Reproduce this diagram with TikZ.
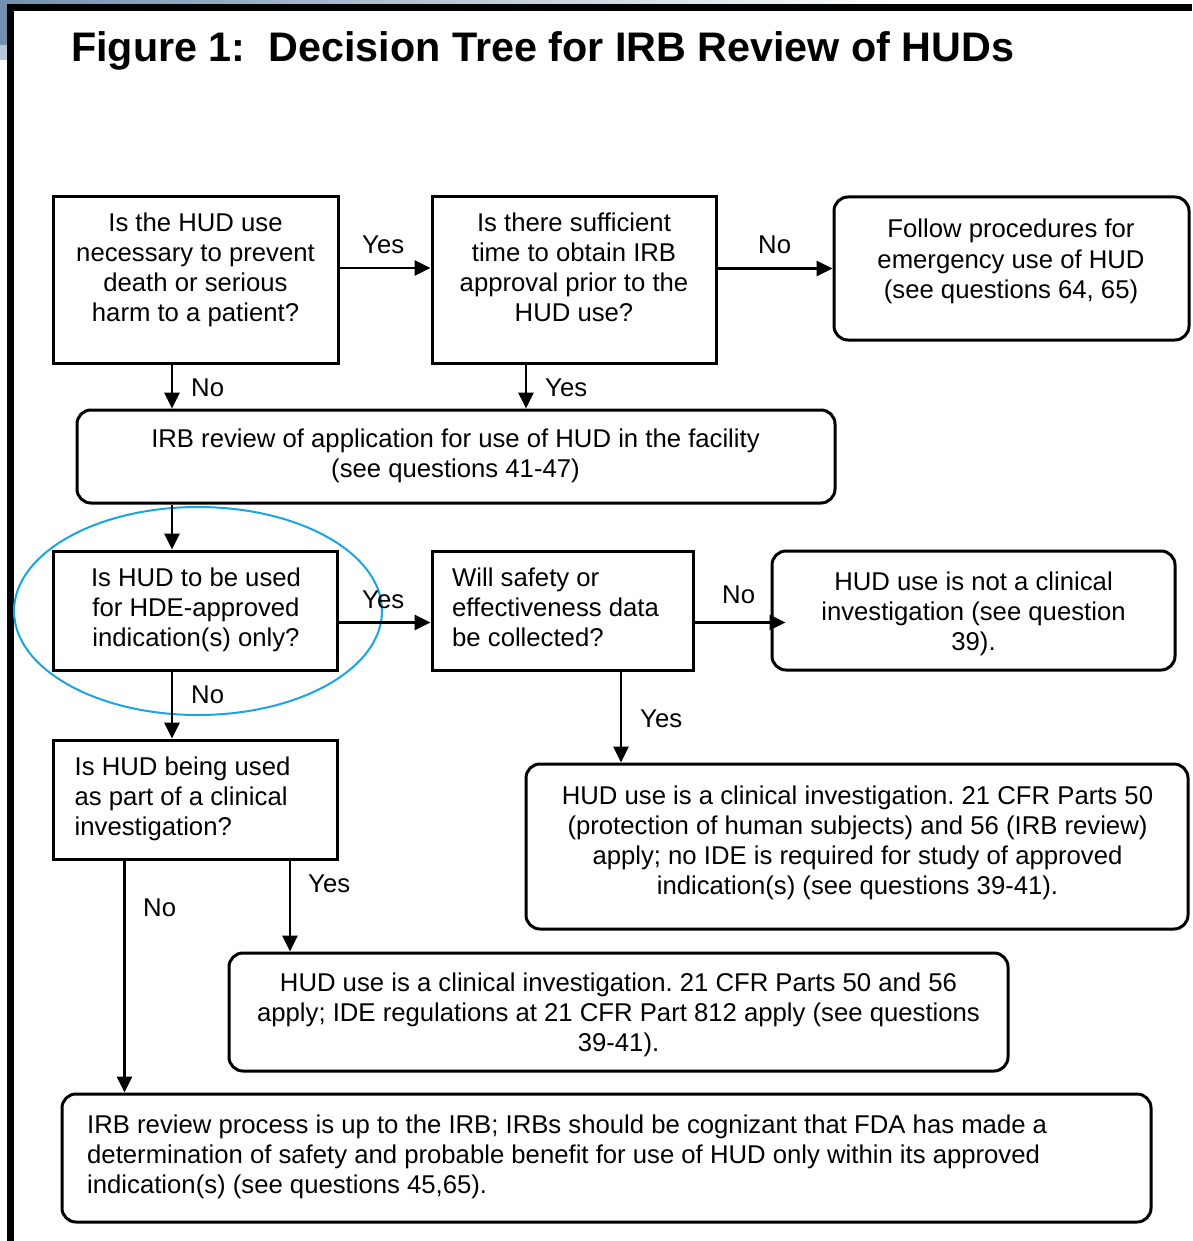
\documentclass[tikz,border=0pt]{standalone}
\usepackage{fontspec}
\setmainfont{Liberation Sans}
\usetikzlibrary{arrows.meta,shapes.geometric}
\definecolor{hlblue}{RGB}{25,165,225}
\definecolor{bgblue}{RGB}{115,145,175}
\newcommand{\mylines}[2]{\begin{tabular}[t]{@{}#1@{}}#2\end{tabular}}
\frenchspacing
\begin{document}
\begin{tikzpicture}[x=1pt,y=-1pt,
  box/.style={draw, line width=3pt, inner sep=0pt, outer sep=1.5pt},
  sqbox/.style={box},
  rbox/.style={box, rounded corners=14pt},
  txt/.style={inner sep=0pt, anchor=base, font=\fontsize{25.7}{30}\selectfont},
  ltxt/.style={txt, anchor=base west},
  lbl/.style={inner sep=0pt, anchor=base west, font=\fontsize{25.7}{30}\selectfont},
  arr/.style={line width=2.8pt, -{Triangle[length=16pt,width=15pt]}},
  hl/.style={ellipse, draw=hlblue, line width=2pt, inner sep=0pt},
]
\useasboundingbox (0,0) rectangle (1192,1241);
% background corner and frame
\shade[left color=bgblue, right color=white] (0,0) rectangle (900,4);
\fill[bgblue] (0,0) rectangle (7,45);
\fill[bgblue!50] (0,45) rectangle (7,60);
\draw[line width=7pt] (10.3,1241) -- (10.3,7.3) -- (1192,7.3);

% title
\node[anchor=base west, inner sep=0pt, font=\bfseries\fontsize{41.3}{48}\selectfont] (title) at (71,62) {Figure 1:\ \ Decision Tree for IRB Review of HUDs};

% boxes
\node[sqbox, minimum width=285pt, minimum height=166pt] (b1) at (195.5,280) {};
\node[sqbox, minimum width=284pt, minimum height=166pt] (b2) at (574,280) {};
\node[rbox, minimum width=355pt, minimum height=143pt] (b3) at (1011.5,268.5) {};
\node[rbox, minimum width=758pt, minimum height=93pt] (b4) at (456,456.5) {};
\node[sqbox, minimum width=284pt, minimum height=119pt] (b5) at (195,610.5) {};
\node[sqbox, minimum width=261pt, minimum height=119pt] (b6) at (562.5,610.5) {};
\node[rbox, minimum width=403pt, minimum height=119pt] (b7) at (973.5,610.5) {};
\node[sqbox, minimum width=284pt, minimum height=119pt] (b8) at (195,799.5) {};
\node[rbox, minimum width=662pt, minimum height=165pt] (b9) at (857,846.5) {};
\node[rbox, minimum width=779pt, minimum height=118pt] (b10) at (618.5,1012) {};
\node[rbox, minimum width=1089pt, minimum height=128pt] (b11) at (606.5,1158) {};

% highlight ellipse
\node[hl, minimum width=368pt, minimum height=208pt] (ring) at (198,611) {};

% texts
\node[txt] (t1) at (195.5,232) {\mylines{c}{Is the HUD use\\necessary to prevent\\death or serious\\harm to a patient?}};
\node[txt] (t2) at (574,232) {\mylines{c}{Is there sufficient\\time to obtain IRB\\approval prior to the\\HUD use?}};
\node[txt] (t3) at (1011,238) {\mylines{c}{Follow procedures for\\emergency use of HUD\\(see questions 64, 65)}};
\node[txt] (t4) at (455.5,447) {\mylines{c}{IRB review of application for use of HUD in the facility\\(see questions 41-47)}};
\node[txt] (t5) at (196,586) {\mylines{c}{Is HUD to be used\\for HDE-approved\\indication(s) only?}};
\node[ltxt] (t6) at (452,586) {\mylines{l}{Will safety or\\effectiveness data\\be collected?}};
\node[txt] (t7) at (973.5,590) {\mylines{c}{HUD use is not a clinical\\investigation (see question\\39).}};
\node[ltxt] (t8) at (74.5,775) {\mylines{l}{Is HUD being used\\as part of a clinical\\investigation?}};
\node[txt] (t9) at (857.5,804) {\mylines{c}{HUD use is a clinical investigation. 21 CFR Parts 50\\(protection of human subjects) and 56 (IRB review)\\apply; no IDE is required for study of approved\\indication(s) (see questions 39-41).}};
\node[txt] (t10) at (618.5,991) {\mylines{c}{HUD use is a clinical investigation. 21 CFR Parts 50 and 56\\apply; IDE regulations at 21 CFR Part 812 apply (see questions\\39-41).}};
\node[ltxt] (t11) at (87,1133) {\mylines{l}{IRB review process is up to the IRB; IRBs should be cognizant that FDA has made a\\determination of safety and probable benefit for use of HUD only within its approved\\indication(s) (see questions 45,65).}};

% connectors
\draw[arr] ([yshift=12pt]b1.east) -- ([yshift=12pt]b1.east -| b2.west);
\draw[arr] (b3.west -| b2.east) -- (b3.west);
\draw[arr] ([xshift=-23.5pt]b1.south) -- ([xshift=-23.5pt]b1.south |- b4.north);
\draw[arr] ([xshift=-48pt]b2.south) -- ([xshift=-48pt]b2.south |- b4.north);
\draw[arr] ([xshift=-23pt]b5.north |- b4.south) -- ([xshift=-23pt]b5.north);
\draw[arr] ([yshift=-12pt]b5.east) -- ([yshift=-12pt]b5.east -| b6.west);
\draw[arr, shorten >=-15pt] ([yshift=-12pt]b6.east) -- ([yshift=-12pt]b6.east -| b7.west);
\draw[arr] ([xshift=-23pt]b5.south) -- ([xshift=-23pt]b8.north);
\draw[arr] ([xshift=58.5pt]b6.south) -- ([xshift=58.5pt]b6.south |- b9.north);
\draw[arr] ([xshift=95pt]b8.south) -- ([xshift=95pt]b8.south |- b10.north);
\draw[arr] ([xshift=-70.5pt]b8.south) -- ([xshift=-70.5pt]b8.south |- b11.north);

% connector labels
\node[lbl] (l1) at (362,254) {Yes};
\node[lbl] (l2) at (758,254) {No};
\node[lbl] (l3) at (191,396) {No};
\node[lbl] (l4) at (545,396) {Yes};
\node[lbl] (l5) at (362,608) {Yes};
\node[lbl] (l6) at (722,603) {No};
\node[lbl] (l7) at (191,703) {No};
\node[lbl] (l8) at (640,727) {Yes};
\node[lbl] (l9) at (308,892) {Yes};
\node[lbl] (l10) at (143,916) {No};
\end{tikzpicture}
\end{document}
